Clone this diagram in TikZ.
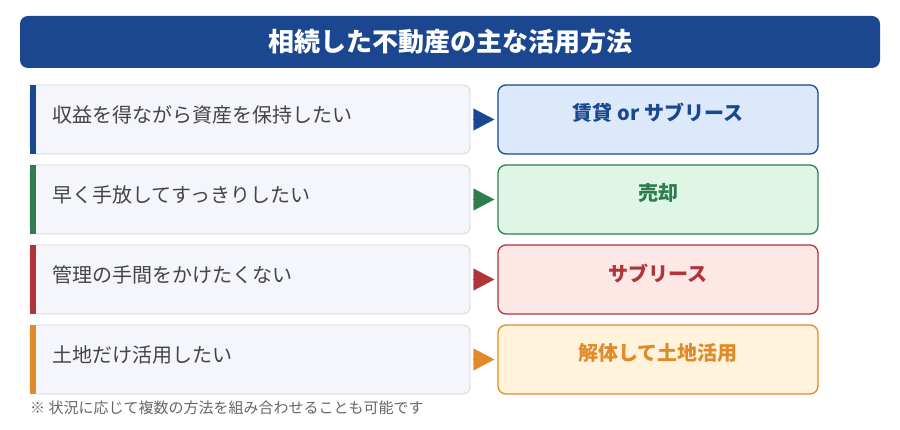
\documentclass[tikz,border=0pt]{standalone}
\usepackage{fontspec}
\setmainfont{Noto Sans CJK JP}
\usetikzlibrary{arrows.meta,calc}
\definecolor{cblue}{HTML}{1B4790}
\definecolor{fblue}{HTML}{DCE9FB}
\definecolor{cgreen}{HTML}{2E7D4F}
\definecolor{fgreen}{HTML}{DFF5E6}
\definecolor{cred}{HTML}{B0343A}
\definecolor{fred}{HTML}{FDE8E6}
\definecolor{corange}{HTML}{E08A2A}
\definecolor{forange}{HTML}{FFF3DC}
\definecolor{lfill}{HTML}{F4F6FB}
\definecolor{lborder}{HTML}{CDD4E2}
\definecolor{ltext}{HTML}{444444}
\definecolor{ntext}{HTML}{666666}
\tikzset{
  leftbox/.style={draw=lborder, fill=lfill, line width=0.8pt, rounded corners=7pt, minimum width=440pt, minimum height=69pt, inner sep=0pt},
  rightbox/.style={line width=1.3pt, rounded corners=8pt, minimum width=320pt, minimum height=69pt, inner sep=0pt},
  lefttext/.style={anchor=west, text=ltext, font=\fontsize{20}{24}\selectfont, inner sep=0pt},
  righttext/.style={font=\bfseries\fontsize{20}{24}\selectfont, inner sep=0pt},
  conn/.style={draw=#1, fill=#1, line width=0.3pt, shorten <=3pt, shorten >=3pt, -{Triangle[length=21pt,width=22pt]}},
}
\begin{document}
\begin{tikzpicture}[x=1pt,y=-1pt]
\useasboundingbox (0,0) rectangle (900,430);
\fill[white] (0,0) rectangle (900,430);
% title
\node[fill=cblue, rounded corners=8pt, minimum width=860pt, minimum height=52pt, inner sep=0pt] (title) at (450,42) {};
\node[text=white, font=\bfseries\fontsize{26}{30}\selectfont, inner sep=0pt] (titletext) at (450,42) {相続した不動産の主な活用方法};
% rows
\foreach \i/\y/\c/\f/\lt/\rt in {
  1/119.5/cblue/fblue/収益を得ながら資産を保持したい/賃貸 or サブリース,
  2/199.5/cgreen/fgreen/早く手放してすっきりしたい/売却,
  3/279.5/cred/fred/管理の手間をかけたくない/サブリース,
  4/359.5/corange/forange/土地だけ活用したい/解体して土地活用}{
  \node[leftbox] (l\i) at (250,\y) {};
  \fill[\c] (30,\y-34.5) rectangle (36,\y+34.5);
  \node[lefttext] (lt\i) at (52,\y-4.5) {\lt};
  \node[rightbox, draw=\c, fill=\f] (r\i) at (658,\y) {};
  \node[righttext, text=\c] (rt\i) at (658,\y-6.5) {\rt};
  \draw[conn=\c] (l\i.east) -- (r\i.west);
}
\node[anchor=west, text=ntext, font=\fontsize{15}{18}\selectfont, inner sep=0pt] (note) at (30,408) {※ 状況に応じて複数の方法を組み合わせることも可能です};
\end{tikzpicture}
\end{document}
